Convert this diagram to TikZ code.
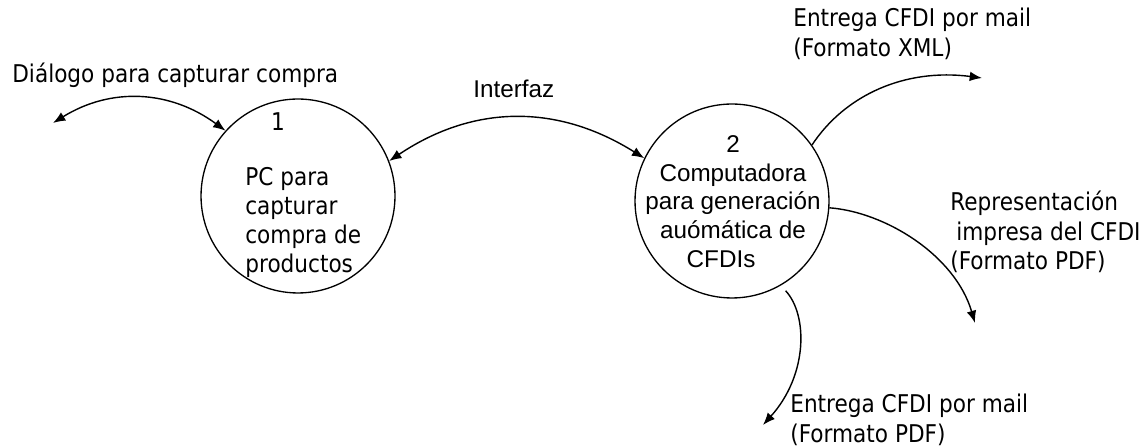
\documentclass[tikz,border=0pt]{standalone}
\usepackage{fontspec}
\usetikzlibrary{arrows.meta}
\newfontfamily\tahomaLike[FakeStretch=0.885]{DejaVu Sans}
\newfontfamily\arialLike{Liberation Sans}
\tikzset{
  dfdProcess/.style={circle, draw, line width=0.75pt, minimum size=3.88cm, inner sep=0pt},
  dfdFlow/.style={line width=0.8pt},
  dfdText/.style={inner sep=0pt, font=\tahomaLike\fontsize{13.9}{16.6}\selectfont},
  dfdArial/.style={inner sep=0pt, font=\arialLike\fontsize{13.8}{16.4}\selectfont}
}

\begin{document}
\begin{tikzpicture}[x=0.02cm, y=-0.02cm, >={Latex[length=7pt,width=5.5pt]}]
            \useasboundingbox (0,0) rectangle (1148,448);
            \node[dfdProcess] (pcCaptura) at (298,196) {};
            \node[dfdProcess] (pcCfdi) at (732,201) {};
            \coordinate (dlgEnd) at (53,123);
            \coordinate (xmlEnd) at (982,78);
            \coordinate (pdfEnd) at (975,323);
            \coordinate (mailEnd) at (763,425);
            \draw[dfdFlow, <->] (dlgEnd) .. controls (111,87) and (170,90) .. (pcCaptura.138);
            \draw[dfdFlow, <->] (pcCaptura.21) .. controls (474,104) and (558,104) .. (pcCfdi.154);
            \draw[dfdFlow, ->] (pcCfdi.35) .. controls (845,95) and (905,68) .. (xmlEnd);
            \draw[dfdFlow, ->] (pcCfdi.-4) .. controls (885,212) and (955,255) .. (pdfEnd);
            \draw[dfdFlow, ->, shorten <=4pt] (pcCfdi.-60) .. controls (808,315) and (808,375) .. (mailEnd);
            \node[dfdText, anchor=base west] (dlgLabel) at (12,83) {Diálogo para capturar compra};
            \node[dfdArial, anchor=base west] (ifzLabel) at (473,98) {Interfaz};
            \node[dfdText, anchor=base] (numUno) at (278,131) {1};
            \node[dfdText, anchor=north west, align=left] (pcLabel) at (245,167) {PC para\\capturar\\compra de\\productos};
            \node[dfdArial, anchor=north, align=center] (cfdiLabel) at (733,135) {2\\Computadora\\para generación\\auómática de\hspace*{10pt}\\CFDIs\hspace*{13.6pt}};
            \node[dfdText, anchor=north west, align=left] (xmlLabel) at (793,8) {Entrega CFDI por mail\\(Formato XML)};
            \node[dfdText, anchor=north west, align=left] (pdfLabel) at (950,191) {Representación\\\hspace*{3.4pt}impresa del CFDI\\(Formato PDF)};
            \node[dfdText, anchor=north west, align=left] (mailLabel) at (790,394) {Entrega CFDI por mail\\(Formato PDF)};
        \end{tikzpicture}
\end{document}
